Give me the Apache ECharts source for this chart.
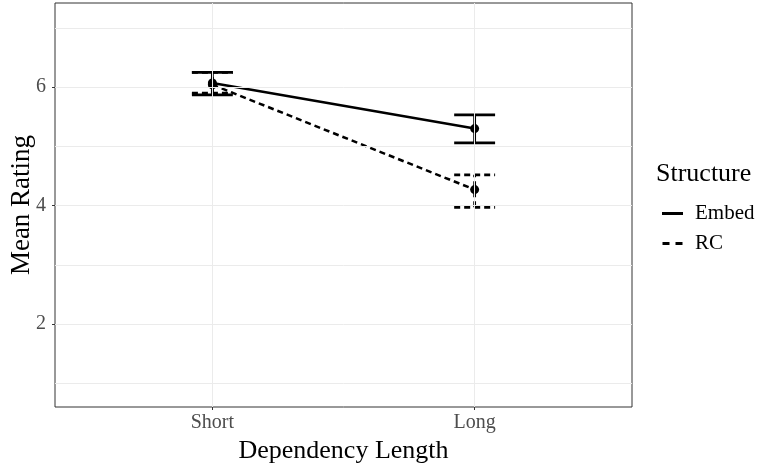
<!DOCTYPE html>
<html><head><meta charset="utf-8">
<script src="https://cdn.jsdelivr.net/npm/echarts@6/dist/echarts.min.js"></script>
<style>html,body{margin:0;padding:0;background:#fff}#c{width:757px;height:465px}</style>
</head><body><div id="c"></div>
<script>
const categories = ['Short', 'Long'];
const structures = ['Embed', 'RC'];
const embedMean = [6.07, 5.30];
const embedLow = [5.87, 5.06];
const embedHigh = [6.25, 5.53];
const rcMean = [6.04, 4.27];
const rcLow = [5.90, 3.97];
const rcHigh = [6.25, 4.52];
const yTicks = [2, 4, 6];
const yGrid = [1, 2, 3, 4, 5, 6, 7];
const xTicks = [1, 2];

const FONT = "'Liberation Serif','Times New Roman',serif";
const chart = echarts.init(document.getElementById('c'));

function errSeries(name, low, high, dash) {
  return {
    type: 'custom', name: name + '_err', silent: true, z: 3,
    data: low.map((l, i) => [i + 1, l, high[i]]),
    renderItem: function (params, api) {
      const x = api.value(0);
      const lo = api.coord([x, api.value(1)]);
      const hi = api.coord([x, api.value(2)]);
      const l = api.coord([x - 0.078, api.value(1)]);
      const r = api.coord([x + 0.078, api.value(1)]);
      const hw = (r[0] - l[0]) / 2;
      const style = { stroke: '#000', lineWidth: 2.8, lineDash: dash ? [6, 4] : null, fill: null };
      return { type: 'group', children: [
        { type: 'line', shape: { x1: lo[0], y1: lo[1], x2: hi[0], y2: hi[1] }, style: style },
        { type: 'line', shape: { x1: hi[0] - hw, y1: hi[1], x2: hi[0] + hw, y2: hi[1] }, style: style },
        { type: 'line', shape: { x1: lo[0] - hw, y1: lo[1], x2: lo[0] + hw, y2: lo[1] }, style: style }
      ]};
    }
  };
}

const option = {
  animation: false,
  grid: { left: 55, right: 125, top: 3, bottom: 58, show: true, borderColor: '#333', borderWidth: 1, containLabel: false, outerBoundsMode: 'none' },
  xAxis: {
    type: 'value', min: 0.4, max: 2.6,
    name: 'Dependency Length', nameLocation: 'middle', nameGap: 30,
    nameTextStyle: { fontFamily: FONT, fontSize: 26, color: '#000' },
    axisLine: { show: false },
    splitLine: { show: false },
    axisTick: { show: true, customValues: xTicks, length: 3, lineStyle: { color: '#333' } },
    axisLabel: { customValues: xTicks, formatter: v => categories[Math.round(v) - 1] || '', fontFamily: FONT, fontSize: 20, color: '#4d4d4d', margin: 6 }
  },
  yAxis: {
    type: 'value', min: 0.6, max: 7.42,
    name: 'Mean Rating', nameLocation: 'middle', nameGap: 20, nameMoveOverlap: false,
    nameTextStyle: { fontFamily: FONT, fontSize: 27, color: '#000' },
    axisLine: { show: false },
    splitLine: { show: false },
    axisTick: { show: true, customValues: yTicks, length: 3, lineStyle: { color: '#333' } },
    axisLabel: { customValues: yTicks, fontFamily: FONT, fontSize: 20, color: '#4d4d4d', margin: 9 }
  },
  legend: {
    orient: 'vertical', left: 657, top: 198, itemGap: 9,
    itemWidth: 21, itemHeight: 3,
    textStyle: { fontFamily: FONT, fontSize: 21, color: '#000', padding: [0, 0, 0, 7] },
    data: [
      { name: 'Embed', icon: 'path://M0,0h21v3h-21z' },
      { name: 'RC', icon: 'path://M0,0h7v3h-7z M13,0h7v3h-7z' }
    ]
  },
  graphic: [{ type: 'text', left: 656, top: 161, style: { text: 'Structure', font: '26px ' + FONT, fill: '#000' } }],
  series: [
    {
      type: 'line', name: 'grid', silent: true, data: [], z: 0,
      markLine: {
        silent: true, symbol: 'none', animation: false,
        label: { show: false },
        lineStyle: { color: '#ebebeb', width: 1, type: 'solid' },
        data: yGrid.map(v => ({ yAxis: v })).concat(xTicks.map(v => ({ xAxis: v })))
      }
    },
    errSeries('Embed', embedLow, embedHigh, false),
    errSeries('RC', rcLow, rcHigh, true),
    {
      type: 'line', name: 'Embed', z: 4,
      data: embedMean.map((v, i) => [i + 1, v]),
      symbol: 'circle', symbolSize: 9, showSymbol: true,
      itemStyle: { color: '#000' },
      lineStyle: { color: '#000', width: 2.5, type: 'solid' }
    },
    {
      type: 'line', name: 'RC', z: 4,
      data: rcMean.map((v, i) => [i + 1, v]),
      symbol: 'circle', symbolSize: 9, showSymbol: true,
      itemStyle: { color: '#000' },
      lineStyle: { color: '#000', width: 2.5, type: [6, 4] }
    }
  ]
};
chart.setOption(option);
</script></body></html>
